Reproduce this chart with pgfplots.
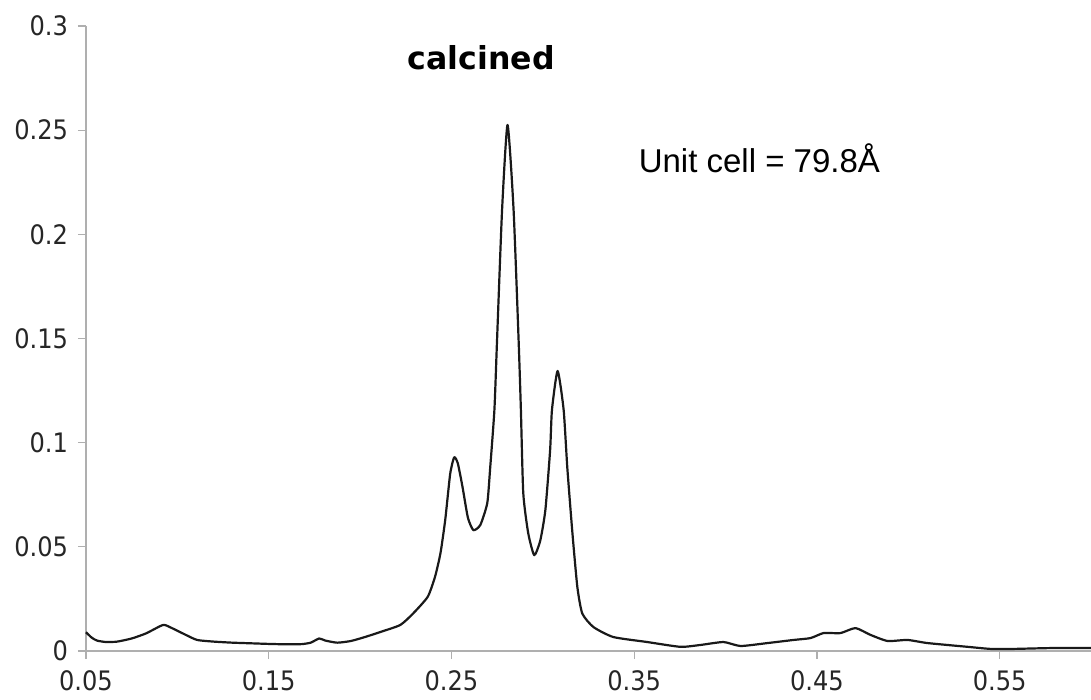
\documentclass[border=0pt]{standalone}
\usepackage{fontspec}
\setmainfont{DejaVu Sans}
\newfontfamily\arial{Liberation Sans}
\newfontfamily\condensed{DejaVu Sans Condensed}
\usepackage{pgfplots}
\pgfplotsset{compat=1.18}
\definecolor{axgray}{RGB}{175,175,175}
\begin{document}
\begin{tikzpicture}
\begin{axis}[
  name=ax,
  scale only axis,
  width=502.5pt, height=312.5pt,
  xmin=0.05, xmax=0.6, ymin=0, ymax=0.3,
  axis x line*=bottom, axis y line*=left,
  axis line style={axgray, line width=0.6pt},
  xtick={0.05,0.15,0.25,0.35,0.45,0.55},
  ytick={0,0.05,0.1,0.15,0.2,0.25,0.3},
  tick align=outside,
  major tick length=4pt,
  tick style={axgray, line width=0.6pt},
  xticklabel style={/pgf/number format/fixed, /pgf/number format/fixed zerofill, /pgf/number format/precision=2, yshift=-2.5pt},
  yticklabel style={/pgf/number format/fixed, /pgf/number format/precision=2, xshift=-1.5pt},
  /pgf/number format/assume math mode=true,
  ticklabel style={font=\condensed\fontsize{13.4}{16}\selectfont, text=black!85},
  clip=false,
]
\addplot[black!90, line width=1.1pt, line join=round, smooth, tension=0.35] coordinates {
(0.050,0.0090) (0.053,0.0065) (0.056,0.0050) (0.061,0.0043) (0.067,0.0045)
(0.075,0.0060) (0.083,0.0085) (0.0922,0.0125) (0.097,0.0110) (0.104,0.0080)
(0.1108,0.0053) (0.120,0.0045) (0.130,0.0040) (0.140,0.0037) (0.150,0.0034)
(0.160,0.0032) (0.168,0.0033) (0.173,0.0040) (0.1776,0.0060) (0.181,0.0050)
(0.1875,0.0040) (0.195,0.0048) (0.203,0.0068) (0.211,0.0091) (0.222,0.0125)
(0.229,0.018) (0.237,0.026) (0.241,0.0356) (0.244,0.047) (0.2466,0.063)
(0.2493,0.085) (0.2515,0.093) (0.2535,0.090) (0.256,0.079) (0.259,0.064)
(0.262,0.058) (0.2658,0.0605) (0.2696,0.071) (0.2712,0.088) (0.2735,0.1157)
(0.2749,0.148) (0.2777,0.2117) (0.2807,0.2525) (0.284,0.2117) (0.2868,0.148)
(0.288,0.1157) (0.2893,0.0758) (0.292,0.0566) (0.2953,0.046) (0.2986,0.053)
(0.3014,0.0677) (0.304,0.0965) (0.305,0.1157) (0.3081,0.1344) (0.3114,0.1157)
(0.3134,0.088) (0.3162,0.0566) (0.3189,0.0307) (0.3216,0.018) (0.3277,0.0115)
(0.3386,0.0067) (0.3572,0.0043) (0.3753,0.0020) (0.3863,0.0029) (0.3989,0.0043)
(0.4082,0.0024) (0.4229,0.0038) (0.4372,0.0053) (0.4465,0.0062) (0.4536,0.0086)
(0.4629,0.0086) (0.4711,0.011) (0.4794,0.0077) (0.4887,0.0048) (0.4996,0.0053)
(0.5106,0.0038) (0.5325,0.0020) (0.5451,0.0010) (0.5577,0.0010) (0.5779,0.0014)
(0.6000,0.0014)
};
\node[anchor=base, inner sep=0pt, font=\fontsize{15.8}{19}\selectfont\bfseries] at (axis cs:0.2663,0.2789) {calcined};
\node[anchor=base west, inner sep=0pt, font=\arial\fontsize{16.5}{19}\selectfont] at (axis cs:0.3523,0.2295) {Unit cell = 79.8Å};
\end{axis}
\pgfresetboundingbox
\path[use as bounding box] ([xshift=-43pt,yshift=-24.5pt]ax.south west) rectangle ([yshift=13pt]ax.north east);
\end{tikzpicture}
\end{document}
